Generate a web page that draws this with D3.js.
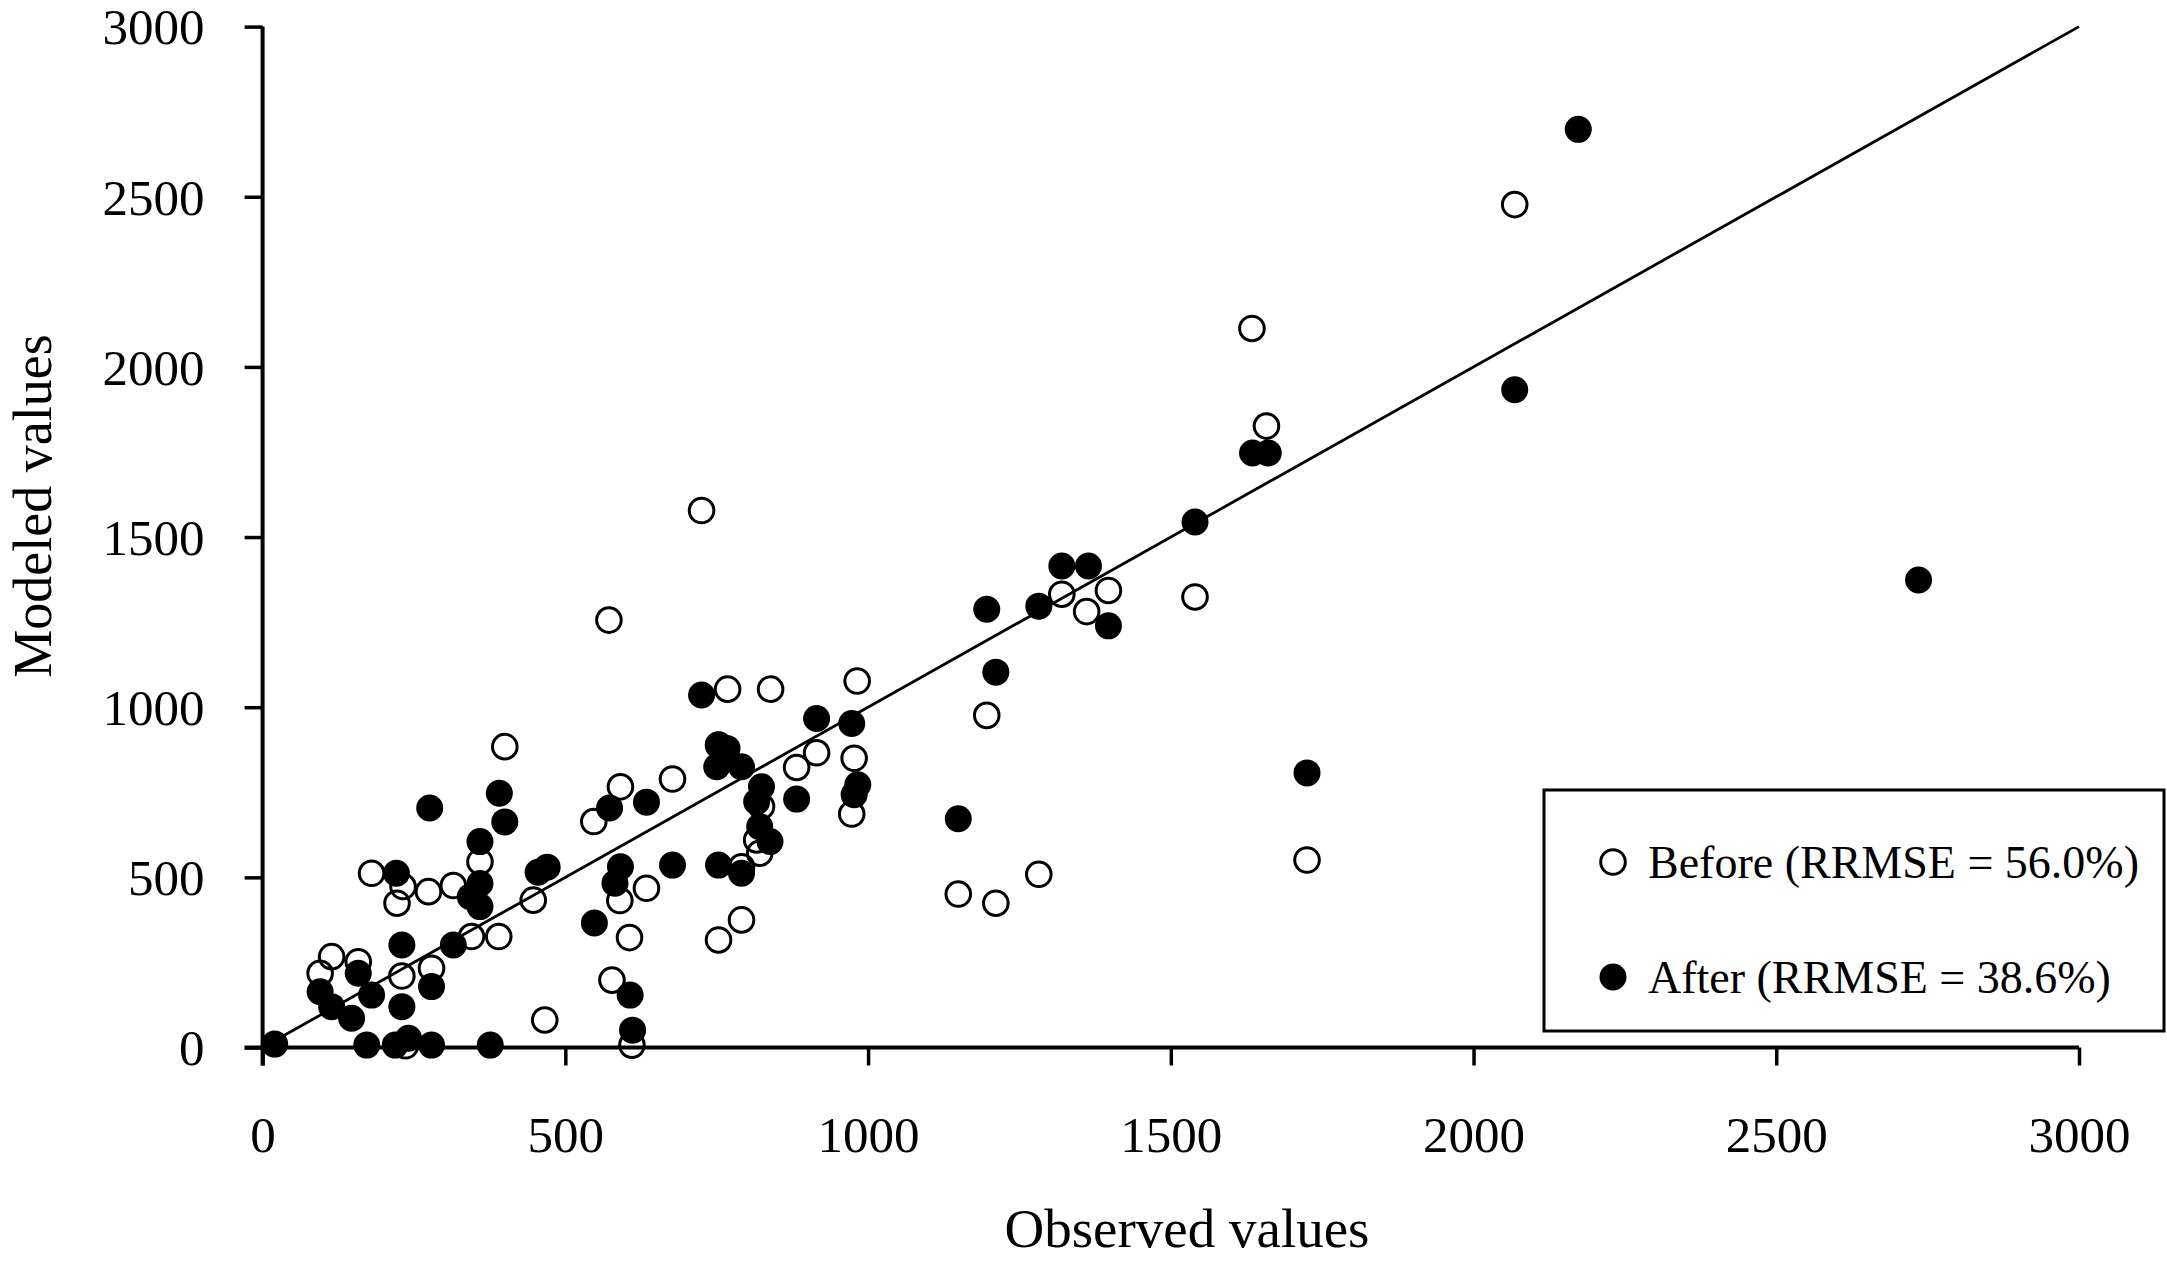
<!DOCTYPE html>
<html>
<head>
<meta charset="utf-8">
<script src="https://cdn.jsdelivr.net/npm/d3@7"></script>
<style>
  html, body { margin: 0; padding: 0; background: #fff; }
  svg { display: block; }
  text { font-family: "Liberation Serif", "Times New Roman", serif; fill: #000; }
</style>
</head>
<body>
<svg id="chart" width="2167" height="1263"></svg>
<script>
// ---- data ----
const xTicks = [0, 500, 1000, 1500, 2000, 2500, 3000];
const yTicks = [0, 500, 1000, 1500, 2000, 2500, 3000];
const xTitle = "Observed values";
const yTitle = "Modeled values";
const seriesNames = ["Before (RRMSE = 56.0%)", "After (RRMSE = 38.6%)"];

// Before (open circles): [observed, modeled]
const beforeObs = [2068,1634,1658,725,572,1540,1397,1320,1361,982,768,839,1196,400,977,915,882,753,677,591,973,824,547,816,821,791,1725,1282,1149,1211,180,222,232,274,315,359,447,634,590,345,390,606,753,791,114,158,95,230,279,577,466,610,236];
const beforeMod = [2477,2113,1826,1578,1256,1324,1343,1332,1281,1077,1053,1053,976,884,850,866,823,889,789,766,686,708,664,610,571,531,551,509,451,424,512,424,473,458,476,546,433,468,432,326,326,323,316,375,267,252,218,210,233,198,81,7,5];

// After (filled circles): [observed, modeled]
const afterObs = [2173,2068,2735,1725,1635,1661,1540,1320,1364,1196,1282,1397,1211,1149,725,915,973,753,767,750,791,824,816,882,983,977,821,838,634,573,753,791,677,591,582,548,607,611,276,391,400,359,221,455,470,359,343,359,315,230,279,230,158,180,95,114,147,172,219,241,279,376,20];
const afterMod = [2698,1933,1374,807,1747,1747,1544,1415,1415,1288,1297,1239,1103,672,1036,967,952,889,879,825,825,766,722,730,772,743,649,605,721,704,536,512,536,531,483,366,154,51,704,747,663,605,512,515,530,482,443,414,301,301,179,120,218,154,164,120,86,7,7,27,7,7,10];

const lineDomain = [0, 3000]; // 1:1 line

// ---- layout ----
const svg = d3.select("#chart");
const x = d3.scaleLinear().domain([0, 3000]).range([262.6, 2079]);
const y = d3.scaleLinear().domain([0, 3000]).range([1047.5, 26.6]);
const TICK = 18;
const R = 13.5;
const FONT = "'Liberation Serif', 'Times New Roman', serif";

// x axis
const gx = svg.append("g").attr("transform", `translate(0,${y(0)})`)
  .call(d3.axisBottom(x).tickValues(xTicks).tickFormat(d => String(d)).tickSize(TICK).tickSizeOuter(0).tickPadding(86));
gx.select(".domain").remove();
gx.selectAll(".tick line").attr("stroke", "#000").attr("stroke-width", 3.5);
gx.selectAll(".tick text").attr("font-size", 51).attr("dy", 0).attr("fill", "#000").style("font-family", FONT);

// y axis
const gy = svg.append("g").attr("transform", `translate(${x(0)},0)`)
  .call(d3.axisLeft(y).tickValues(yTicks).tickFormat(d => String(d)).tickSize(TICK).tickSizeOuter(0).tickPadding(40));
gy.select(".domain").remove();
gy.selectAll(".tick line").attr("stroke", "#000").attr("stroke-width", 3.5);
gy.selectAll(".tick text").attr("font-size", 51).attr("dy", "0.34em").attr("fill", "#000").style("font-family", FONT);

// axis lines
svg.append("line").attr("x1", x(0) - TICK).attr("x2", x(3000)).attr("y1", y(0)).attr("y2", y(0))
  .attr("stroke", "#000").attr("stroke-width", 4);
svg.append("line").attr("x1", x(0)).attr("x2", x(0)).attr("y1", y(3000)).attr("y2", y(0) + TICK)
  .attr("stroke", "#000").attr("stroke-width", 4);

// 1:1 line
svg.append("line")
  .attr("x1", x(lineDomain[0])).attr("y1", y(lineDomain[0]))
  .attr("x2", x(lineDomain[1])).attr("y2", y(lineDomain[1]))
  .attr("stroke", "#000").attr("stroke-width", 2.8);

// points
const beforeData = beforeObs.map((v, i) => ({ o: v, m: beforeMod[i] }));
const afterData = afterObs.map((v, i) => ({ o: v, m: afterMod[i] }));

svg.append("g").selectAll("circle").data(beforeData).join("circle")
  .attr("cx", d => x(d.o)).attr("cy", d => y(d.m)).attr("r", R - 1.2)
  .attr("fill", "none").attr("stroke", "#000").attr("stroke-width", 3);

svg.append("g").selectAll("circle").data(afterData).join("circle")
  .attr("cx", d => x(d.o)).attr("cy", d => y(d.m)).attr("r", R)
  .attr("fill", "#000");

// axis titles
svg.append("text").attr("x", 1187).attr("y", 1247).attr("text-anchor", "middle")
  .attr("font-size", 55).text(xTitle);
svg.append("text").attr("transform", "translate(51,506) rotate(-90)").attr("text-anchor", "middle")
  .attr("font-size", 54).text(yTitle);

// legend
const lg = svg.append("g");
lg.append("rect").attr("x", 1544).attr("y", 790).attr("width", 620).attr("height", 241)
  .attr("fill", "#fff").attr("stroke", "#000").attr("stroke-width", 3);
const legY = [862, 977];
lg.append("circle").attr("cx", 1613).attr("cy", legY[0]).attr("r", R - 1.2)
  .attr("fill", "#fff").attr("stroke", "#000").attr("stroke-width", 3);
lg.append("circle").attr("cx", 1613).attr("cy", legY[1]).attr("r", R).attr("fill", "#000");
seriesNames.forEach((s, i) => {
  lg.append("text").attr("x", 1648).attr("y", legY[i]).attr("dy", "0.35em")
    .attr("font-size", 46).text(s);
});
</script>
</body>
</html>
